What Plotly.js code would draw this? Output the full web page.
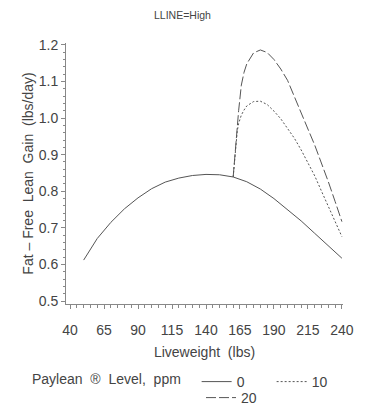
<!DOCTYPE html>
<html>
<head>
<meta charset="utf-8">
<script src="https://cdn.plot.ly/plotly-3.0.1.min.js"></script>
<style>html,body{margin:0;padding:0;background:#fff;}#chart{width:381px;height:412px;}</style>
</head>
<body>
<div id="chart"></div>
<script>
// Paylean 0 ppm (control)
const xControl = [50,60,70,80,90,100,110,120,130,140,150,160,170,180,190,200,210,220,230,240];
const yControl = [0.612,0.671,0.715,0.752,0.782,0.807,0.825,0.836,0.843,0.846,0.845,0.839,0.826,0.806,0.780,0.750,0.719,0.685,0.650,0.617];

// Paylean 10 and 20 ppm (from 160 lbs)
const xPaylean = [160,161,162,163,164,166,168,170,175,180,185,190,195,200,205,210,215,220,225,230,235,240];
const y10 = [0.839,0.880,0.935,0.965,0.985,1.008,1.022,1.033,1.045,1.046,1.037,1.019,0.998,0.973,0.945,0.913,0.878,0.842,0.800,0.758,0.717,0.676];
const y20 = [0.839,0.890,0.935,0.980,1.020,1.090,1.125,1.148,1.178,1.186,1.179,1.160,1.134,1.103,1.060,1.018,0.970,0.926,0.877,0.826,0.772,0.717];

const xTicks = [40,65,90,115,140,165,190,215,240];
const yTicks = [0.5,0.6,0.7,0.8,0.9,1.0,1.1,1.2];
const yTickText = ['0.5','0.6','0.7','0.8','0.9','1.0','1.1','1.2'];

const lineCol = '#555555';
const textCol = '#444444';
const font = 'Liberation Sans, Arial, Helvetica, sans-serif';
const S = '\u00a0';
const W = 381, H = 412;

const traces = [
  {x: xControl, y: yControl, name: '0', mode: 'lines', line: {color: lineCol, width: 1, dash: 'solid'}, legend: 'legend'},
  {x: xPaylean, y: y10, name: '10', mode: 'lines', line: {color: lineCol, width: 1, dash: '2px,2px'}, legend: 'legend'},
  {x: xPaylean, y: y20, name: '20', mode: 'lines', line: {color: lineCol, width: 1, dash: '10px,3px'}, legend: 'legend2'}
];

const axisCommon = {
  showline: true, linecolor: '#888888', linewidth: 1,
  ticks: 'outside', ticklen: 4, tickcolor: '#888888', tickwidth: 1,
  showgrid: false, zeroline: false, automargin: false,
  tickfont: {family: font, size: 14, color: textCol}
};

const layout = {
  width: W, height: H,
  margin: {l: 66, r: 38, t: 43, b: 108},
  paper_bgcolor: '#ffffff', plot_bgcolor: '#ffffff',
  font: {family: font, color: textCol},
  xaxis: Object.assign({}, axisCommon, {
    range: [37, 240.8], tickvals: xTicks, ticklabelstandoff: 9,
    minor: {dtick: 5, tick0: 40, ticks: 'outside', ticklen: 3, tickcolor: '#888888'},
    title: {text: 'Liveweight' + S + S + '(lbs)', font: {family: font, size: 14, color: textCol}, standoff: 10}
  }),
  yaxis: Object.assign({}, axisCommon, {
    range: [0.492, 1.205], tickvals: yTicks, ticktext: yTickText,
    minor: {dtick: 0.02, tick0: 0.5, ticks: 'outside', ticklen: 2, tickcolor: '#888888'},
    title: {text: 'Fat' + S + '\u2013' + S + 'Free' + S + S + 'Lean' + S + S + 'Gain' + S + S + '(lbs/day)', font: {family: font, size: 14, color: textCol}, standoff: 1}
  }),
  showlegend: true,
  legend: {
    orientation: 'h', xref: 'container', yref: 'container',
    x: 30 / W, xanchor: 'left', y: 1 - 382 / H, yanchor: 'middle',
    title: {text: 'Paylean' + S + S + '\u00ae' + S + S + 'Level,' + S + S + 'ppm' + S + S, side: 'left', font: {family: font, size: 14, color: textCol}},
    font: {family: font, size: 14, color: textCol},
    entrywidth: 30, itemwidth: 30, tracegroupgap: 0, bgcolor: 'rgba(0,0,0,0)'
  },
  legend2: {
    orientation: 'h', xref: 'container', yref: 'container',
    x: 201 / W, xanchor: 'left', y: 1 - 398 / H, yanchor: 'middle',
    font: {family: font, size: 14, color: textCol},
    bgcolor: 'rgba(0,0,0,0)'
  },
  annotations: [
    {text: 'LLINE=High', xref: 'paper', yref: 'paper', x: (182 - 66) / 277, y: (304 - 15) / 261, xanchor: 'center', yanchor: 'middle', showarrow: false, font: {family: font, size: 10.5, color: textCol}}
  ]
};

Plotly.newPlot('chart', traces, layout, {displayModeBar: false, staticPlot: true});
</script>
</body>
</html>
